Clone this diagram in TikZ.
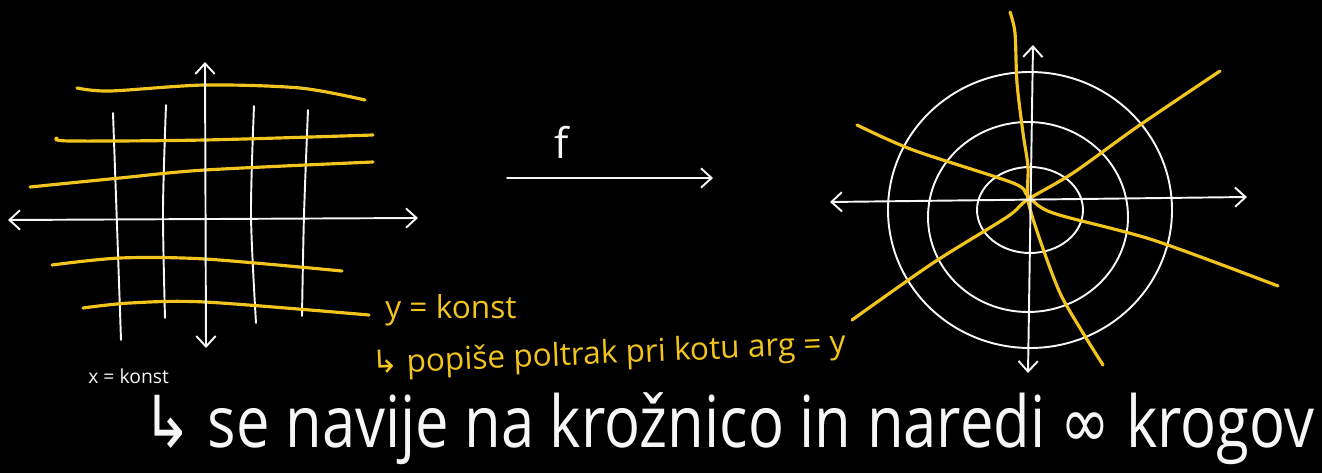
\documentclass[tikz,border=0pt]{standalone}
\usepackage{fontspec}
\setmainfont{Open Sans}
\newfontfamily\symfont{DejaVu Sans}
\usetikzlibrary{arrows.meta}
\definecolor{chalk}{RGB}{246,246,246}
\definecolor{marker}{RGB}{242,196,30}

\begin{document}
\begin{tikzpicture}[x=0.02cm,y=-0.02cm,>={Straight Barb[length=6pt,width=11pt]},
  wline/.style={chalk,line width=1.1pt,line cap=round,line join=round},
  yline/.style={marker,line width=1.8pt,line cap=round,line join=round},
  note/.style={inner sep=0pt,anchor=base west}]
  \fill[black] (0,0) rectangle (1322,473);
  \useasboundingbox (0,0) rectangle (1322,473);

  % left: the plane with x = const and y = const
  \draw[wline] plot[smooth] coordinates {(113,113) (117,225) (121,340)};
  \draw[wline] plot[smooth] coordinates {(166,105) (163,210) (165,318)};
  \draw[wline] plot[smooth] coordinates {(254,106) (251,215) (256,323)};
  \draw[wline] plot[smooth] coordinates {(308,110) (304,215) (302,316)};
  \draw[yline] plot[smooth] coordinates {(77,88) (110,91) (205,85) (300,88) (365,100)};
  \draw[yline] plot[smooth] coordinates {(57,138) (70,141) (205,140) (373,135)};
  \draw[yline] plot[smooth] coordinates {(30,187) (120,178) (205,170) (373,162)};
  \draw[yline] plot[smooth] coordinates {(52,265) (120,258) (205,259) (342,271)};
  \draw[yline] plot[smooth] coordinates {(83,308) (130,303) (205,302) (369,315)};
  \draw[wline,<->] (8,220) -- (418,218);
  \draw[wline,<->] (206,348) -- (205,62);

  % the map
  \coordinate (fsrc) at (507,178);
  \coordinate (fdst) at (713,178);
  \draw[wline,->] (fsrc) -- (fdst);
  \node[chalk] (flabel) at (562,142) {\fontsize{24}{26}\selectfont f};

  % right: the image, circles and rays
  \draw[wline] (1030,210) ellipse [x radius=142, y radius=138];
  \draw[wline] (1028,217) ellipse [x radius=100, y radius=95];
  \draw[wline] (1030,210) ellipse [x radius=53, y radius=43];
  \draw[yline] plot[smooth] coordinates {(1010,12) (1015,33) (1017,83) (1023,133) (1028,167)
    (1028,200) (1040,240) (1060,293) (1083,333) (1103,365)};
  \draw[yline] plot[smooth] coordinates {(857,125) (913,150) (1013,183) (1028,196)
    (1053,213) (1153,240) (1278,286)};
  \draw[yline] plot[smooth] coordinates {(852,320) (933,263) (1007,217) (1027,200)
    (1073,173) (1137,127) (1220,71)};
  \draw[wline,<->] (830,202) -- (1247,197);
  \draw[wline,<->] (1028,373) -- (1033,45);

  % notes
  \node[note,chalk] (xconst) at (88,383) {\fontsize{11}{13}\selectfont x = konst};
  \node[note,marker] (yconst) at (385,318) {\fontsize{18}{20}\selectfont y = konst};
  \node[note,marker,rotate=2.5] (ray) at (372,374)
    {\fontsize{18}{20}\selectfont{\symfont ↳} popiše poltrak pri kotu arg = y};
  \node[note,chalk] (circ) at (142,447)
    {\scalebox{1}[1.2]{\fontsize{34}{36}\selectfont{\symfont ↳} se navije na krožnico in naredi {\symfont ∞} krogov}};
\end{tikzpicture}
\end{document}
